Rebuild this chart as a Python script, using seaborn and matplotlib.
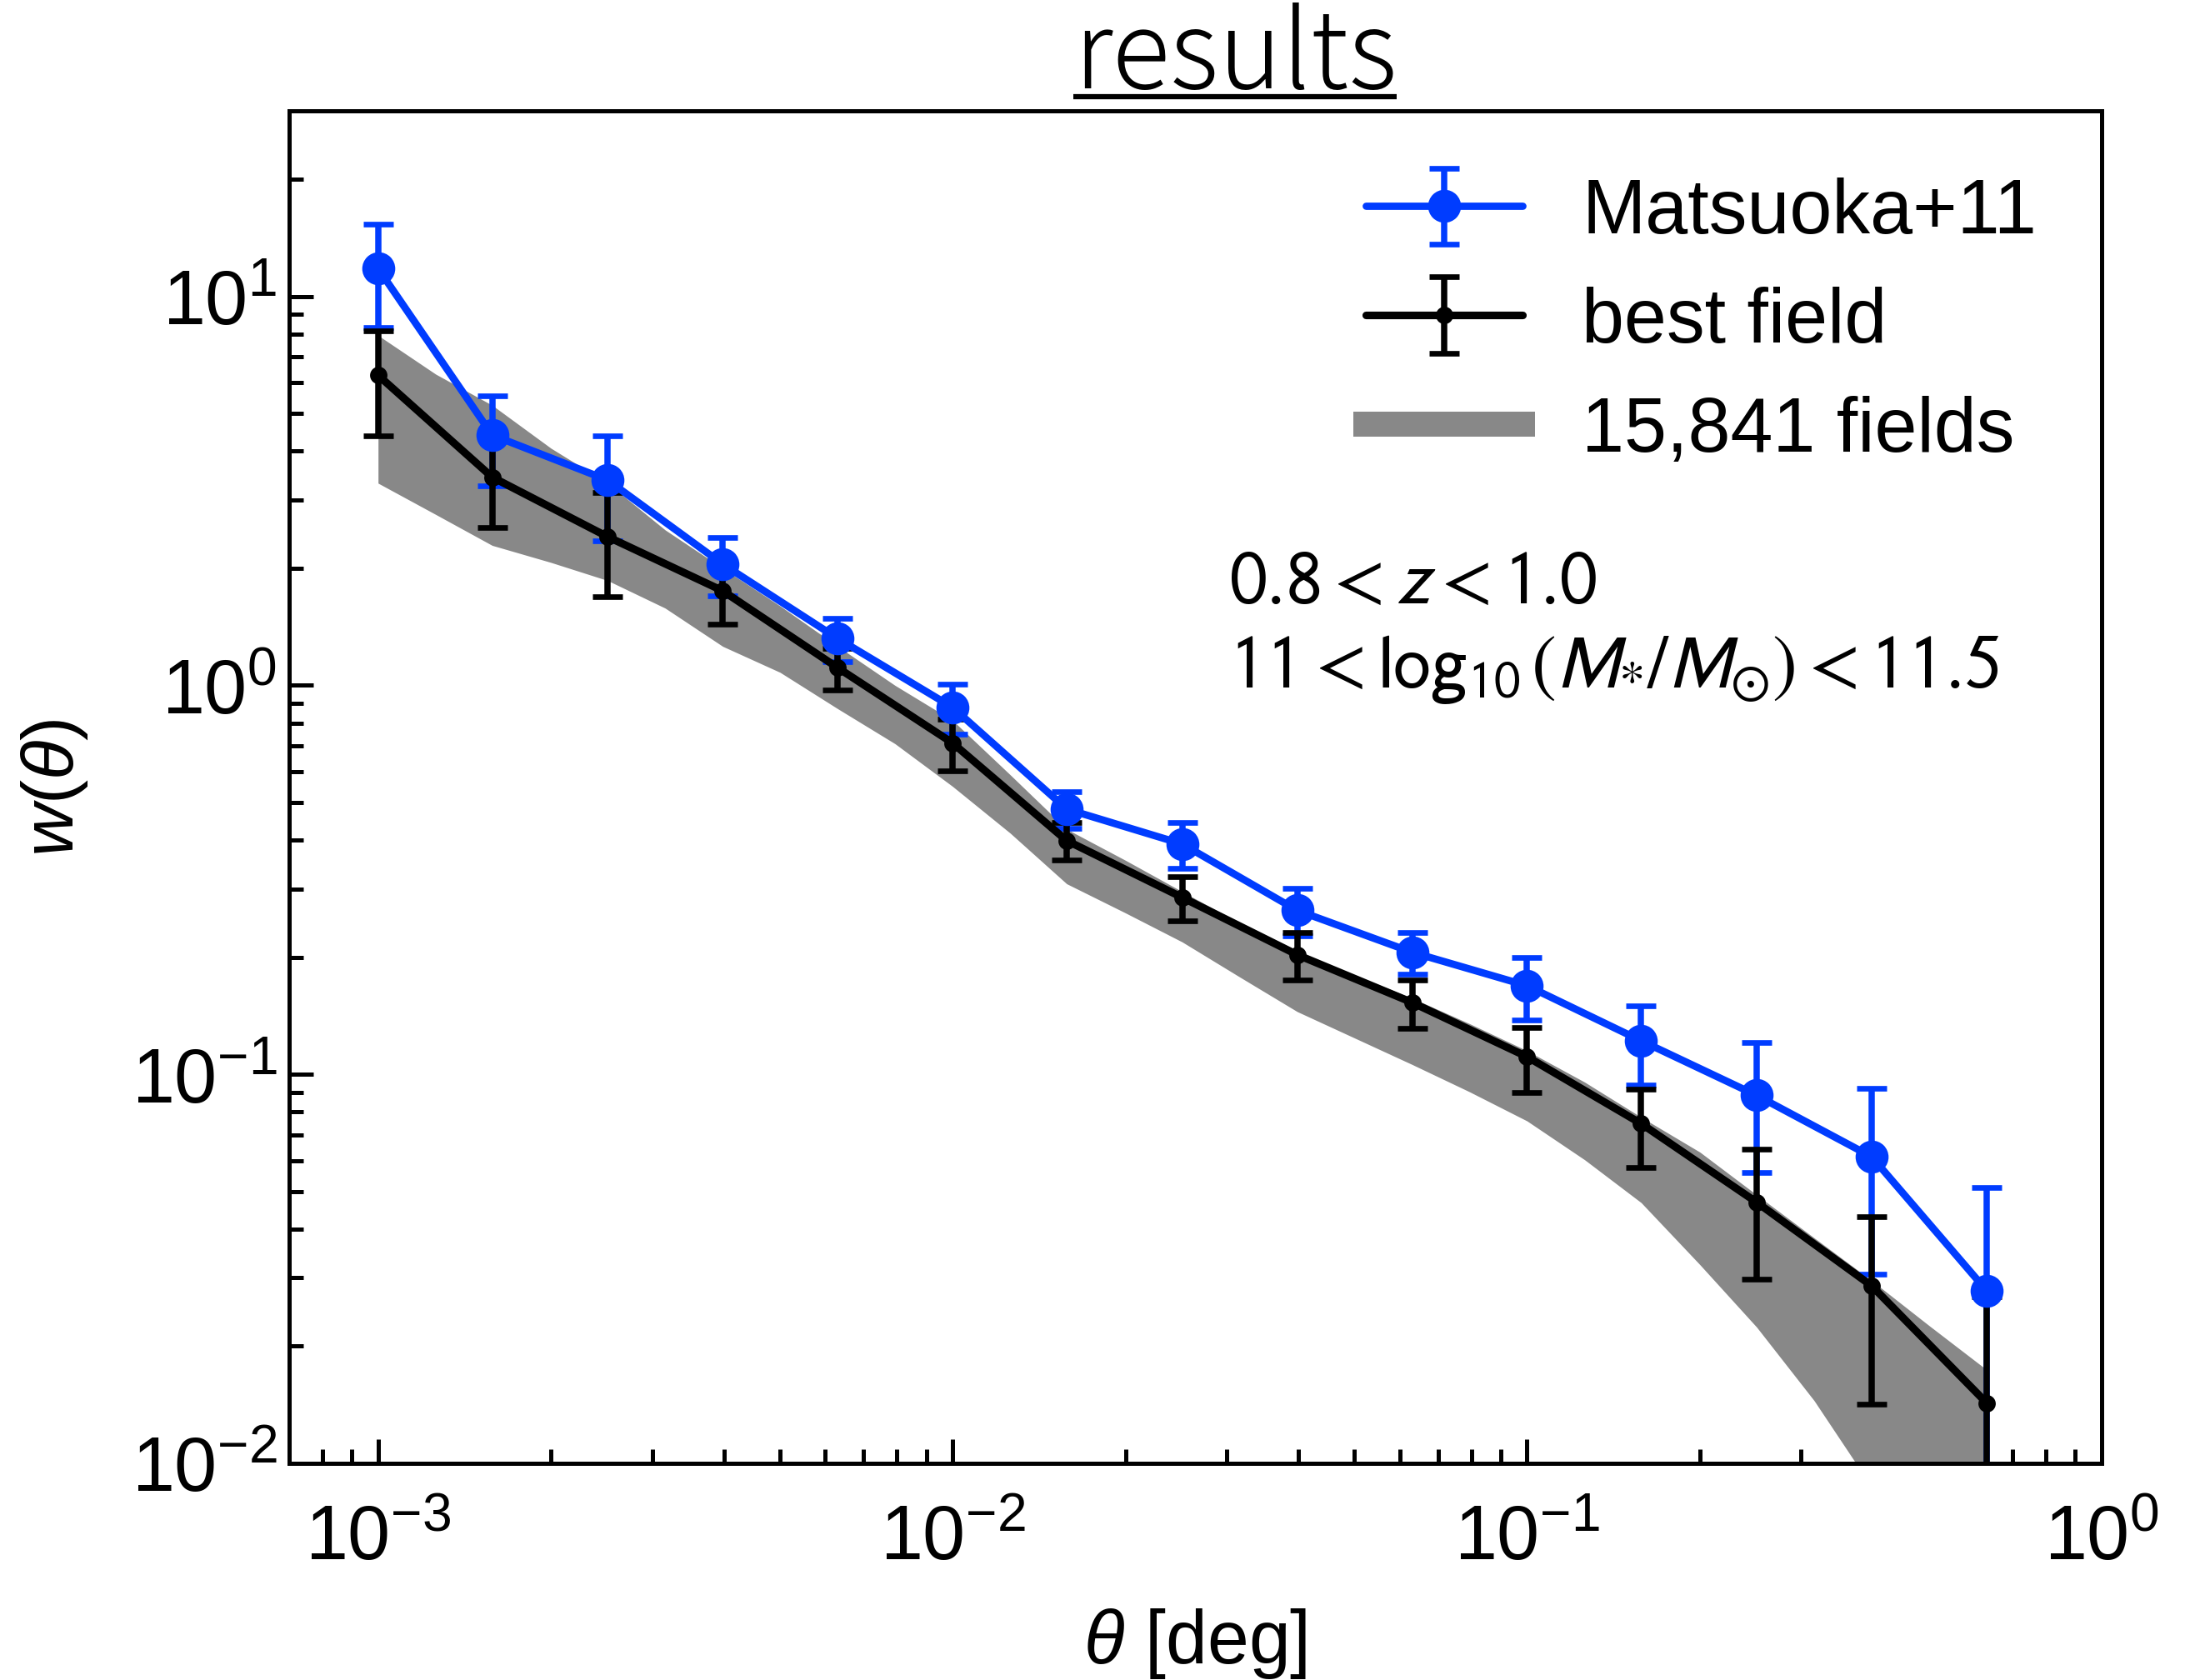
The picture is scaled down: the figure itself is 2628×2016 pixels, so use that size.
import matplotlib
matplotlib.use("Agg")
import matplotlib.pyplot as plt
from matplotlib.lines import Line2D
import seaborn as sns

# angular bins [deg]
theta = [0.001, 0.00158, 0.00251, 0.00398, 0.00631, 0.01, 0.0158, 0.0251,
         0.0398, 0.0631, 0.1, 0.158, 0.251, 0.398, 0.631]

# Matsuoka+11
w_matsuoka = [11.8, 4.40, 3.37, 2.05, 1.32, 0.878, 0.481, 0.391, 0.264, 0.206,
              0.169, 0.122, 0.0883, 0.0614, 0.0278]
err_matsuoka = [3.5, 1.15, 1.02, 0.35, 0.17, 0.13, 0.051, 0.052, 0.037, 0.025,
                0.031, 0.028, 0.0325, 0.0307, 0.0235]

# best field
w_best = [6.27, 3.43, 2.41, 1.75, 1.11, 0.711, 0.399, 0.285, 0.203, 0.153,
          0.111, 0.0747, 0.0469, 0.0286, 0.0143]
err_best = [1.9, 0.89, 0.72, 0.31, 0.137, 0.108, 0.044, 0.037, 0.028, 0.022,
            0.021, 0.017, 0.0172, 0.0144, 0.0125]

# range of the 15,841 fields
band_theta = [0.001, 0.00126, 0.00158, 0.002, 0.00251, 0.00316, 0.00398, 0.00501,
              0.00631, 0.00794, 0.01, 0.0126, 0.0158, 0.02, 0.0251, 0.0316,
              0.0398, 0.0501, 0.0631, 0.0794, 0.1, 0.126, 0.158, 0.2, 0.251,
              0.316, 0.398, 0.501, 0.631]
band_hi = [7.94, 6.31, 5.25, 4.07, 3.31, 2.51, 2.0, 1.6, 1.26, 1.0, 0.813,
           0.589, 0.427, 0.355, 0.295, 0.245, 0.207, 0.18, 0.157, 0.135, 0.115,
           0.0955, 0.0776, 0.0631, 0.049, 0.038, 0.0295, 0.0226, 0.0174]
band_lo = [3.31, 2.75, 2.29, 2.07, 1.86, 1.58, 1.26, 1.08, 0.871, 0.708, 0.55,
           0.417, 0.309, 0.26, 0.219, 0.178, 0.145, 0.124, 0.106, 0.0902, 0.0759,
           0.0603, 0.0468, 0.0324, 0.0224, 0.0145, 0.0087, 0.0054, 0.0033]

labels = ["Matsuoka+11", "best field", "15,841 fields"]

blue = "#003cff"
grey = "#888888"

sns.set_theme(style="ticks")
plt.rcParams["font.family"] = ["Liberation Sans", "DejaVu Sans"]
plt.rcParams["mathtext.fontset"] = "custom"
plt.rcParams["mathtext.rm"] = "Liberation Sans"
plt.rcParams["mathtext.it"] = "Liberation Sans:italic"
plt.rcParams["mathtext.bf"] = "Liberation Sans:bold"
plt.rcParams["axes.edgecolor"] = "black"
plt.rcParams["text.color"] = "black"
plt.rcParams["axes.labelcolor"] = "black"
plt.rcParams["xtick.color"] = "black"
plt.rcParams["ytick.color"] = "black"

fig = plt.figure(figsize=(8.76, 6.7233), dpi=300)
ax = fig.add_axes([0.132, 0.1289, 0.8276, 0.8047])
ax.set_xscale("log")
ax.set_yscale("log")

ax.fill_between(band_theta, band_lo, band_hi, color=grey, lw=0, zorder=1)

eb_m = ax.errorbar(theta, w_matsuoka, yerr=err_matsuoka, fmt="none", ecolor=blue,
                   elinewidth=1.8, capsize=4.3, capthick=1.6)
eb_b = ax.errorbar(theta, w_best, yerr=err_best, fmt="none", ecolor="black",
                   elinewidth=1.8, capsize=4.3, capthick=1.6)

sns.lineplot(x=theta, y=w_matsuoka, color=blue, linewidth=2.1, marker="o",
             markersize=9.5, markeredgecolor=blue, markeredgewidth=0, ax=ax, zorder=2.1)
line_m = ax.lines[-1]
sns.lineplot(x=theta, y=w_best, color="black", linewidth=2.2, marker="o",
             markersize=5, markeredgecolor="black", markeredgewidth=0, ax=ax, zorder=2.1)
line_b = ax.lines[-1]

ax.set_xlim(7.0e-4, 1.0)
ax.set_ylim(0.01, 30)

for s in ax.spines.values():
    s.set_linewidth(1.2)
    s.set_color("black")
ax.tick_params(which="both", direction="in", top=False, right=False, width=1.2,
               labelsize=22)
ax.tick_params(which="major", length=7)
ax.tick_params(which="minor", length=4)
ax.tick_params(axis="x", which="both", pad=11.5)

ax.set_xlabel(r"$\theta$ [deg]", fontsize=21.5, labelpad=9)
ax.set_ylabel(r"$w(\theta)$", fontsize=21, labelpad=12)

band_proxy = Line2D([], [], color=grey, lw=7.2, solid_capstyle="projecting")
ax.legend([(eb_m, line_m), (eb_b, line_b), band_proxy], labels,
          loc="upper left", bbox_to_anchor=(0.594, 0.951), frameon=False,
          fontsize=22, handlelength=2.05, handletextpad=0.78, labelspacing=0.49,
          borderpad=0, borderaxespad=0)

ax.text(0.5186, 0.6365, r"$0.8 < z < 1.0$", transform=ax.transAxes,
        fontsize=21.5, math_fontfamily="stixsans", va="baseline")
ax.text(0.5186, 0.574, r"$11 < \log_{10}(M_{*}/M_{\odot}) < 11.5$",
        transform=ax.transAxes, fontsize=21.5, math_fontfamily="stixsans",
        va="baseline")

title = fig.text(0.564, 0.9474, "results", ha="center", va="baseline",
                 fontsize=31, fontweight="light",
                 family=["Noto Sans CJK JP", "DejaVu Sans"])
fig.canvas.draw()
bb = title.get_window_extent().transformed(fig.transFigure.inverted())
fig.add_artist(Line2D([bb.x0, bb.x1], [0.942, 0.942], transform=fig.transFigure,
                      color="black", lw=1.5, solid_capstyle="butt"))

fig.savefig("out.png", dpi=300)
